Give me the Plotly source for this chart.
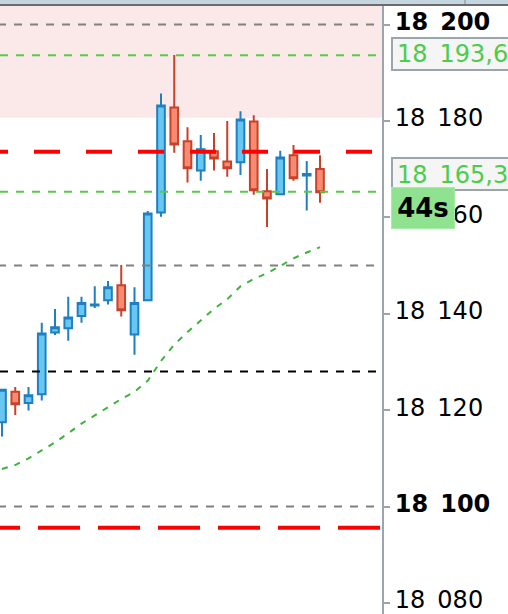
import plotly.graph_objects as go

# ---- data ----
idx = list(range(25))
opens  = [18117.5, 18123.8, 18121.5, 18123.3, 18136.1, 18137.0, 18139.5, 18141.7, 18142.8, 18145.9,
          18135.7, 18142.8, 18161.0, 18182.8, 18175.8, 18169.7, 18173.7, 18171.6, 18171.4, 18179.9,
          18165.4, 18164.8, 18172.9, 18168.7, 18170.0]
highs  = [18124.2, 18124.8, 18124.8, 18138.1, 18141.0, 18143.5, 18143.5, 18145.7, 18146.8, 18150.1,
          18145.5, 18161.3, 18185.7, 18193.7, 18178.7, 18177.1, 18177.5, 18180.0, 18182.0, 18181.2,
          18170.0, 18173.8, 18175.0, 18171.7, 18172.9]
lows   = [18114.5, 18119.0, 18119.9, 18122.0, 18135.6, 18134.4, 18138.1, 18141.2, 18141.9, 18139.4,
          18131.5, 18142.8, 18160.1, 18173.4, 18167.2, 18167.6, 18169.7, 18168.4, 18168.8, 18164.7,
          18158.0, 18164.8, 18167.6, 18161.4, 18163.0]
closes = [18124.2, 18121.2, 18123.1, 18135.9, 18137.2, 18139.2, 18142.2, 18141.9, 18145.5, 18140.7,
          18142.2, 18160.8, 18183.2, 18175.1, 18170.2, 18174.1, 18172.2, 18170.2, 18180.3, 18165.6,
          18163.9, 18172.4, 18168.1, 18169.0, 18165.2]
ma     = [18107.8, 18108.6, 18110.0, 18111.7, 18113.3, 18115.2, 18117.2, 18118.9, 18120.6, 18122.3,
          18123.8, 18126.1, 18130.2, 18133.6, 18136.2, 18138.7, 18141.0, 18143.0, 18145.7, 18147.2,
          18148.4, 18149.9, 18151.5, 18152.7, 18153.8]

SP = "\u2002"
tick_vals = [18080, 18100, 18120, 18140, 18160, 18180, 18200]
tick_text = ["18" + SP + "080", "<b>18" + SP + "100</b>", "18" + SP + "120", "18" + SP + "140",
             "18" + SP + "160", "18" + SP + "180", "<b>18" + SP + "200</b>"]

zone_low = 18180.66
gray_levels = [18200.0, 18150.0, 18100.0]
green_levels = [18193.6, 18165.3]
black_level = 18128.0
red_top = 18173.6
red_bottom = 18095.6
price_labels = ["18" + SP + "193,6", "18" + SP + "165,3"]
timer_text = "44s"

Y_RANGE = [18077.70, 18203.84]
X_RANGE = [-0.151, 28.68]

W, H = 508, 614
PL, PR, PT, PB = 0, 126, 6, 0
PW, PH = W - PL - PR, H - PT - PB


def px(x):
    return x / PW


def py(y):
    return (H - PB - y) / PH


fig = go.Figure()
fig.add_trace(go.Candlestick(
    x=idx, open=opens, high=highs, low=lows, close=closes,
    increasing=dict(line=dict(color="#1f7fc0", width=2), fillcolor="#66c8f2"),
    decreasing=dict(line=dict(color="#c8412a", width=2), fillcolor="#f78a70"),
    whiskerwidth=0, showlegend=False, hoverinfo="skip",
))
fig.add_trace(go.Scatter(
    x=idx, y=ma, mode="lines", line=dict(color="#3cb43c", width=2, dash="6px,7px"),
    showlegend=False, hoverinfo="skip",
))

shapes = []
# pink zone
shapes.append(dict(type="rect", xref="paper", yref="y", x0=0, x1=1, y0=zone_low, y1=Y_RANGE[1] + 5,
                   fillcolor="#fbe8e8", line=dict(width=0), layer="below"))
# horizontal levels
for g in gray_levels:
    shapes.append(dict(type="line", xref="paper", yref="y", x0=px(-2), x1=1, y0=g, y1=g,
                       line=dict(color="#808080", width=2, dash="8px,8px"), layer="above"))
for g in green_levels:
    shapes.append(dict(type="line", xref="paper", yref="y", x0=0, x1=1, y0=g, y1=g,
                       line=dict(color="#55cc44", width=2, dash="8px,8px"), layer="above"))
shapes.append(dict(type="line", xref="paper", yref="y", x0=0, x1=1, y0=black_level, y1=black_level,
                   line=dict(color="#000000", width=2, dash="8px,8px"), layer="above"))
shapes.append(dict(type="line", xref="paper", yref="y", x0=px(-18), x1=1, y0=red_top, y1=red_top,
                   line=dict(color="#ff0000", width=4, dash="26px,26px"), layer="above"))
shapes.append(dict(type="line", xref="paper", yref="y", x0=px(-22), x1=1, y0=red_bottom, y1=red_bottom,
                   line=dict(color="#ff0000", width=4, dash="42px,18px"), layer="above"))
# top strip
shapes.append(dict(type="rect", xref="paper", yref="paper", x0=0, x1=px(W + 5), y0=py(0), y1=py(-5),
                   fillcolor="#c5d6e0", line=dict(width=0)))
shapes.append(dict(type="rect", xref="paper", yref="paper", x0=0, x1=px(W + 5), y0=py(0), y1=py(4),
                   fillcolor="#c5d6e0", line=dict(width=0)))
shapes.append(dict(type="rect", xref="paper", yref="paper", x0=0, x1=px(W + 5), y0=py(4), y1=py(6),
                   fillcolor="#6b6b6b", line=dict(width=0)))
shapes.append(dict(type="line", xref="paper", yref="paper", x0=px(465), x1=px(465), y0=py(0), y1=py(4),
                   line=dict(color="#9aa5ad", width=1.5)))
# price label boxes
shapes.append(dict(type="rect", xref="paper", yref="paper", x0=px(392), x1=px(530), y0=py(70), y1=py(38),
                   fillcolor="#f5f5f5", line=dict(color="#9aa5ad", width=2)))
shapes.append(dict(type="rect", xref="paper", yref="paper", x0=px(392), x1=px(530), y0=py(190), y1=py(158),
                   fillcolor="#f5f5f5", line=dict(color="#9aa5ad", width=2)))

annotations = []
for lbl, cy in zip(price_labels, [54, 175]):
    annotations.append(dict(text=lbl, xref="paper", yref="paper", x=px(395), y=py(cy),
                            xanchor="left", yanchor="middle", showarrow=False,
                            font=dict(family="DejaVu Sans", size=24, color="#4ccc4c")))
annotations.append(dict(text="<b>" + timer_text + "</b>", xref="paper", yref="paper", x=px(391), y=py(208),
                        xanchor="left", yanchor="middle", showarrow=False, width=62, height=40,
                        borderpad=0, borderwidth=1, bordercolor="#a6eca6", bgcolor="#8fe28f",
                        align="center", valign="middle",
                        font=dict(family="DejaVu Sans", size=26, color="#000000")))

fig.update_layout(
    width=W, height=H,
    margin=dict(l=PL, r=PR, t=PT, b=PB, pad=0, autoexpand=False),
    paper_bgcolor="#ffffff", plot_bgcolor="#ffffff",
    showlegend=False,
    shapes=shapes, annotations=annotations,
    boxgap=0.24, boxgroupgap=0.24,
    xaxis=dict(range=X_RANGE, visible=False, automargin=False,
               rangeslider=dict(visible=False), fixedrange=True),
    yaxis=dict(range=Y_RANGE, side="right", showgrid=False, zeroline=False, automargin=False,
               showline=True, linecolor="#9aa5ad", linewidth=2,
               ticks="outside", ticklen=6, tickwidth=1.5, tickcolor="#9aa5ad",
               tickvals=tick_vals, ticktext=tick_text, ticklabeloverflow="allow",
               ticklabelshift=-3,
               tickfont=dict(family="DejaVu Sans", size=24, color="#000000"),
               fixedrange=True),
)

fig.write_html("out.html", config=dict(displayModeBar=False),
               post_script="document.body.style.margin='0';document.body.style.overflow='hidden';")
